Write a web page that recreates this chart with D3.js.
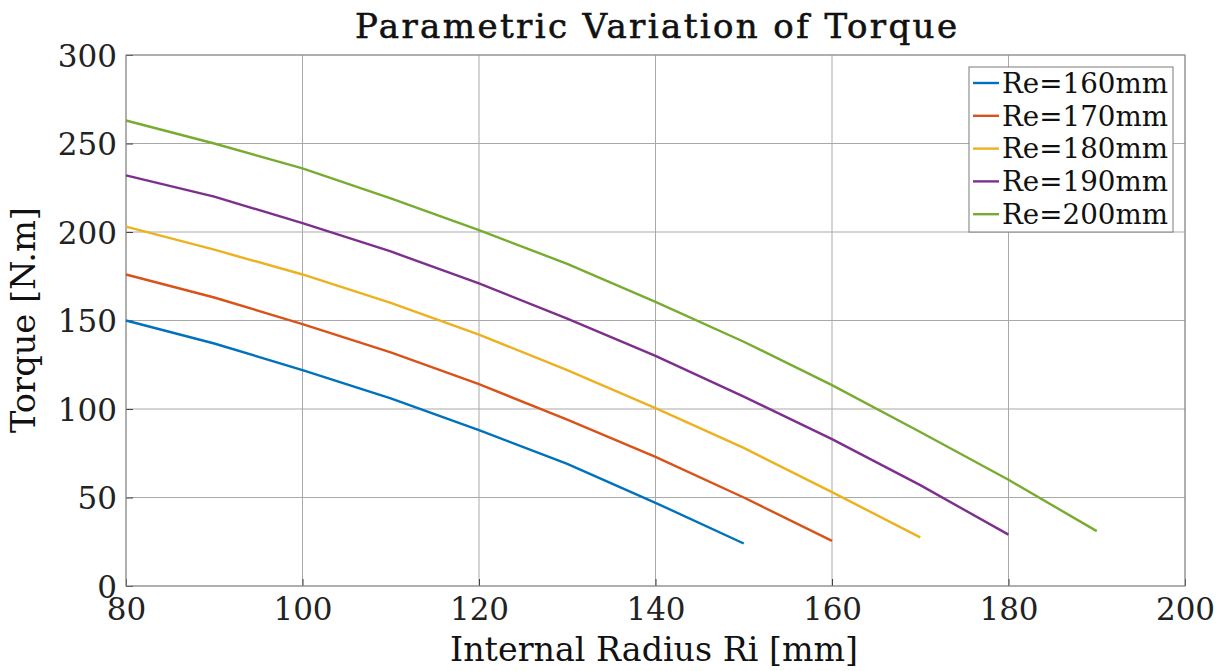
<!DOCTYPE html>
<html>
<head>
<meta charset="utf-8">
<script src="https://cdn.jsdelivr.net/npm/d3@7"></script>
<style>
  body { margin: 0; background: #fff; }
  text { font-family: "DejaVu Serif", "Liberation Serif", serif; fill: #111; }
</style>
</head>
<body>
<svg id="chart" width="1227" height="671"></svg>
<script>
// data
var radii = [80, 90, 100, 110, 120, 130, 140, 150, 160, 170, 180, 190];
var seriesNames = ["Re=160mm", "Re=170mm", "Re=180mm", "Re=190mm", "Re=200mm"];
var re160 = [150, 137, 122, 106, 88, 69, 47, 24];
var re170 = [176, 163, 148, 132, 114, 94, 73, 50, 25.5];
var re180 = [203, 190, 176, 160, 142, 122, 100.5, 78, 53, 27.5];
var re190 = [232, 220, 205, 189, 171, 151, 130, 107, 83, 57, 29];
var re200 = [263, 250, 236, 219, 201, 182, 160.5, 138, 113.5, 87, 60, 31];
var colors = ["#0072BD", "#D95319", "#EDB120", "#7E2F8E", "#77AC30"];
var xTicks = [80, 100, 120, 140, 160, 180, 200];
var yTicks = [0, 50, 100, 150, 200, 250, 300];

var allSeries = [re160, re170, re180, re190, re200];

var plotLeft = 126, plotRight = 1185, plotTop = 55, plotBottom = 586;

var svg = d3.select("#chart");

var x = d3.scaleLinear().domain([80, 200]).range([plotLeft, plotRight]);
var y = d3.scaleLinear().domain([0, 300]).range([plotBottom, plotTop]);

// grid lines
svg.append("g")
    .selectAll("line")
    .data(xTicks)
    .enter().append("line")
    .attr("x1", function (d) { return x(d); })
    .attr("x2", function (d) { return x(d); })
    .attr("y1", plotTop)
    .attr("y2", plotBottom)
    .style("stroke", "#a9a9a9")
    .style("stroke-width", 1);

svg.append("g")
    .selectAll("line")
    .data(yTicks)
    .enter().append("line")
    .attr("x1", plotLeft)
    .attr("x2", plotRight)
    .attr("y1", function (d) { return y(d); })
    .attr("y2", function (d) { return y(d); })
    .style("stroke", "#a9a9a9")
    .style("stroke-width", 1);

// axes
var xAxis = svg.append("g")
    .attr("transform", "translate(0," + plotBottom + ")")
    .call(d3.axisBottom(x).tickValues(xTicks).tickSize(-7).tickPadding(12));
var yAxis = svg.append("g")
    .attr("transform", "translate(" + plotLeft + ",0)")
    .call(d3.axisLeft(y).tickValues(yTicks).tickSize(-7).tickPadding(9));

[xAxis, yAxis].forEach(function (a) {
    a.select(".domain").remove();
    a.selectAll("line").style("stroke", "#404040");
    a.selectAll("text")
        .style("font-size", "31px")
        .style("font-family", "'DejaVu Serif', serif")
        .style("fill", "#222");
});
xAxis.selectAll("text").attr("dy", "0.72em");
yAxis.selectAll("text").attr("dy", "0.36em");

// box
svg.append("rect")
    .attr("x", plotLeft)
    .attr("y", plotTop)
    .attr("width", plotRight - plotLeft)
    .attr("height", plotBottom - plotTop)
    .style("fill", "none")
    .style("stroke", "#8a8a8a")
    .style("stroke-width", 1);

// lines
var line = d3.line()
    .x(function (d, i) { return x(radii[i]); })
    .y(function (d) { return y(d); });

svg.append("g")
    .selectAll("path")
    .data(allSeries)
    .enter().append("path")
    .attr("d", line)
    .style("fill", "none")
    .style("stroke", function (d, i) { return colors[i]; })
    .style("stroke-width", 2.4);

// title and labels
svg.append("text")
    .attr("x", 656)
    .attr("y", 38)
    .attr("text-anchor", "middle")
    .attr("textLength", 602)
    .attr("lengthAdjust", "spacing")
    .style("font-size", "34px")
    .style("stroke", "#111")
    .style("stroke-width", 0.6)
    .text("Parametric Variation of Torque");

svg.append("text")
    .attr("x", 654)
    .attr("y", 661)
    .attr("text-anchor", "middle")
    .attr("textLength", 408)
    .attr("lengthAdjust", "spacingAndGlyphs")
    .style("font-size", "33px")
    .text("Internal Radius Ri [mm]");

svg.append("text")
    .attr("transform", "translate(35,320) rotate(-90)")
    .attr("text-anchor", "middle")
    .attr("textLength", 226)
    .attr("lengthAdjust", "spacingAndGlyphs")
    .style("font-size", "33px")
    .text("Torque [N.m]");

// legend
var legend = svg.append("g");
legend.append("rect")
    .attr("x", 969)
    .attr("y", 67)
    .attr("width", 204)
    .attr("height", 165)
    .style("fill", "#fff")
    .style("stroke", "#7a7a7a")
    .style("stroke-width", 1);

var items = legend.selectAll("g")
    .data(seriesNames)
    .enter().append("g")
    .attr("transform", function (d, i) { return "translate(0," + (83 + i * 32.8) + ")"; });

items.append("line")
    .attr("x1", 973)
    .attr("x2", 999)
    .attr("y1", 0)
    .attr("y2", 0)
    .style("stroke", function (d, i) { return colors[i]; })
    .style("stroke-width", 2.4);

items.append("text")
    .attr("x", 1002)
    .attr("dy", "0.36em")
    .attr("textLength", 166)
    .attr("lengthAdjust", "spacingAndGlyphs")
    .style("font-size", "27px")
    .text(function (d) { return d; });
</script>
</body>
</html>
